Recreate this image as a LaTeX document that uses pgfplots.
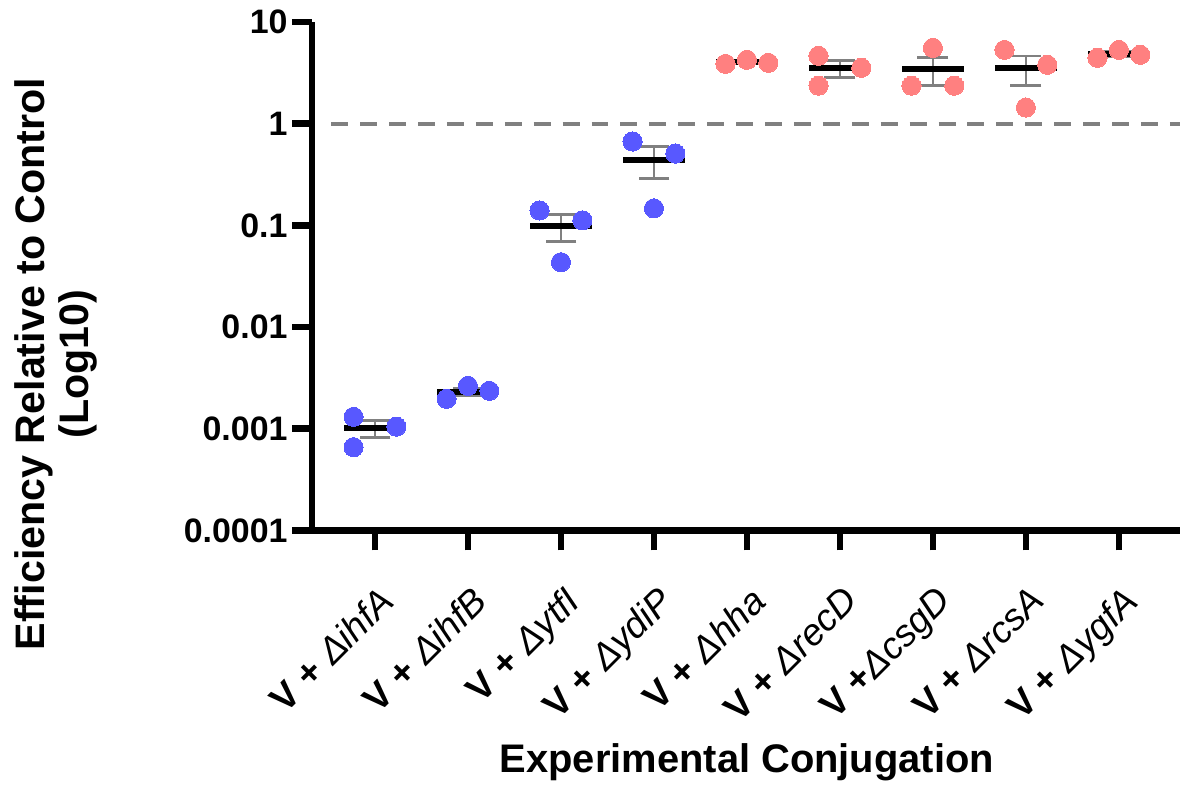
\documentclass[border=0pt]{standalone}
\usepackage{fontspec}
\setmainfont{Liberation Sans}
\usepackage{pgfplots}
\pgfplotsset{compat=1.18}
\usepackage{pgfplotstable}

\definecolor{dotblue}{RGB}{88,88,255}
\definecolor{dotpink}{RGB}{255,128,128}
\definecolor{bargray}{RGB}{128,128,128}

% mean per strain
\pgfplotstableread{
x m
0 0.00101
1 0.00232
2 0.0985
3 0.441
4 4.02
5 3.51
6 3.43
7 3.51
8 4.83
}\meantab

% ends of the SEM bars
\pgfplotstableread{
x y
0 0.000821
0 0.001199
1 0.002125
1 0.002515
2 0.0698
2 0.1272
3 0.287
3 0.595
4 3.909
4 4.131
5 2.852
5 4.168
6 2.36
6 4.50
7 2.38
7 4.64
8 4.576
8 5.084
}\semtab

\pgfplotstableread{
x y
-0.23 0.00131
-0.23 0.00066
0.23 0.00105
0.77 0.00197
1.0 0.00264
1.23 0.00236
1.77 0.140
2.0 0.0434
2.23 0.112
2.77 0.667
3.0 0.147
3.23 0.508
}\bluetab

\pgfplotstableread{
x y
3.77 3.87
4.0 4.24
4.23 3.96
4.77 4.64
4.77 2.36
5.23 3.54
5.77 2.36
6.0 5.56
6.23 2.36
6.77 5.31
7.0 1.44
7.23 3.79
7.77 4.44
8.0 5.31
8.23 4.75
}\pinktab

\newcommand{\lbl}{\fontsize{25.5}{30}\selectfont}
\newcommand{\ttl}{\fontsize{31}{36}\selectfont}
\newcommand{\strain}[2][ ]{{\bfseries V +#1}{\mdseries\itshape Δ#2}}

\begin{document}
\begin{tikzpicture}
\begin{axis}[
    name=ax,
    scale only axis,
    width=652.5pt, height=382.5pt,
    ymode=log,
    ymin=1e-4, ymax=10,
    xmin=-0.676, xmax=8.654,
    axis x line*=bottom, axis y line*=left,
    axis line style={line width=5pt},
    every tick/.style={black, line width=5pt},
    major tick length=15pt,
    tick align=outside,
    yminorticks=false,
    ytick={1e-4,1e-3,1e-2,1e-1,1,10},
    yticklabels={0.0001,0.001,0.01,0.1,1,10},
    xtick={0,...,8},
    xticklabels={\strain{ihfA},\strain{ihfB},\strain{ytfI},\strain{ydiP},\strain{hha},\strain{recD},\strain[]{csgD},\strain{rcsA},\strain{ygfA}},
    yticklabel style={font=\lbl\bfseries},
    xticklabel style={font=\fontsize{28}{32}\selectfont\bfseries,
        xshift=1.5pt, yshift=-25.5pt, rotate=45,
        anchor=north east, inner sep=0pt},
    clip=false,
    unbounded coords=jump,
]
\addplot[bargray, line width=3pt, dash pattern=on 12.75pt off 9pt]
    coordinates {(-0.47,1) (8.654,1)};

% SEM bars
\addplot[bargray, line width=2pt] coordinates {
    (0,0.000821) (0,0.001199) (0,nan)
    (1,0.002125) (1,0.002515) (1,nan)
    (2,0.0698) (2,0.1272) (2,nan)
    (3,0.287) (3,0.595) (3,nan)
    (4,3.909) (4,4.131) (4,nan)
    (5,2.852) (5,4.168) (5,nan)
    (6,2.36) (6,4.50) (6,nan)
    (7,2.38) (7,4.64) (7,nan)
    (8,4.576) (8,5.084)
};
\addplot[only marks, mark=-, mark size=11.6pt,
    mark options={bargray, line width=2pt}]
    table[x=x, y=y] {\semtab};

% means
\addplot[only marks, mark=-, mark size=23.25pt,
    mark options={black, line width=4.5pt}]
    table[x=x, y=m] {\meantab};

\addplot[dotblue, only marks, mark=*, mark size=7.2pt,
    mark options={draw=dotblue, fill=dotblue, line width=0pt}]
    table[x=x, y=y] {\bluetab};

\addplot[dotpink, only marks, mark=*, mark size=7.2pt,
    mark options={draw=dotpink, fill=dotpink, line width=0pt}]
    table[x=x, y=y] {\pinktab};
\end{axis}

\node[font=\ttl\bfseries, rotate=90, anchor=base]
    at ([shift={(-201pt,125.25pt)}]ax.south west)
    {Efficiency Relative to Control};
\node[font=\ttl\bfseries, rotate=90, anchor=base]
    at ([shift={(-168pt,125.25pt)}]ax.south west) {(Log10)};
\node[font=\fontsize{30}{35}\selectfont\bfseries, anchor=base]
    at ([shift={(327pt,-182pt)}]ax.south west) {Experimental Conjugation};

\path[use as bounding box] ([shift={(-234.75pt,-190.5pt)}]ax.south west)
    rectangle ([shift={(652.5pt,399pt)}]ax.south west);
\end{tikzpicture}
\end{document}
